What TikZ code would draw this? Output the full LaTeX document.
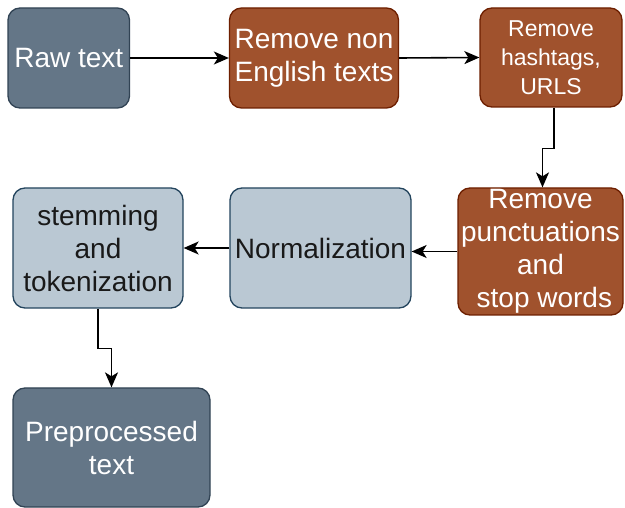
\documentclass[tikz,border=0pt]{standalone}
\usepackage{fontspec}
\setmainfont{Liberation Sans}
\usetikzlibrary{arrows.meta}
\definecolor{slatefill}{HTML}{647687}
\definecolor{slatedraw}{HTML}{314354}
\definecolor{brownfill}{HTML}{A0522D}
\definecolor{browndraw}{HTML}{6D1F00}
\definecolor{bluefill}{HTML}{BAC8D3}
\definecolor{bluedraw}{HTML}{23445D}
\tikzset{
  box/.style={draw, line width=1.3pt, rounded corners=12pt, inner sep=0pt, align=center,
    font=\fontsize{28}{33}\selectfont},
  slatebox/.style={box, fill=slatefill, draw=slatedraw, text=white},
  brownbox/.style={box, fill=brownfill, draw=browndraw, text=white},
  bluebox/.style={box, fill=bluefill, draw=bluedraw, text=black!90},
  arr/.style={draw=black, line width=1.6pt, -{Stealth[length=15pt,width=13pt,inset=4pt]}},
}
\begin{document}
\begin{tikzpicture}[x=1pt,y=-1pt]
\useasboundingbox (0,0) rectangle (625,508);
\node[slatebox, minimum width=121.5pt, minimum height=100pt] (raw) at (68.75,58) {Raw text};
\node[brownbox, minimum width=169pt, minimum height=100pt] (noneng) at (314,58) {Remove non\\English texts};
\node[brownbox, minimum width=142pt, minimum height=99pt, font=\fontsize{23}{29}\selectfont] (hash) at (551,57.5) {Remove\\hashtags,\\URLS};
\node[brownbox, minimum width=165pt, minimum height=127pt] (punct) at (540.5,251.5) {Remove\\punctuations\\and\\~stop words};
\node[bluebox, minimum width=181pt, minimum height=120pt] (norm) at (320.5,248) {Normalization};
\node[bluebox, minimum width=170pt, minimum height=120pt] (stem) at (98,248) {stemming\\and\\tokenization};
\node[slatebox, minimum width=197pt, minimum height=119pt] (prep) at (111.5,447.5) {Preprocessed\\text};
\draw[arr] (raw.east) -- (noneng.west);
\draw[arr] (noneng.east) -- (hash.west);
\draw[arr] ([xshift=3pt]hash.south) -- ++(0,41) -| ([xshift=2pt]punct.north);
\draw[arr] (punct.west) -- (punct.west -| norm.east);
\draw[arr] (norm.west) -- (stem.east);
\draw[arr] (stem.south) -- ++(0,40) -| (prep.north);
\end{tikzpicture}
\end{document}
